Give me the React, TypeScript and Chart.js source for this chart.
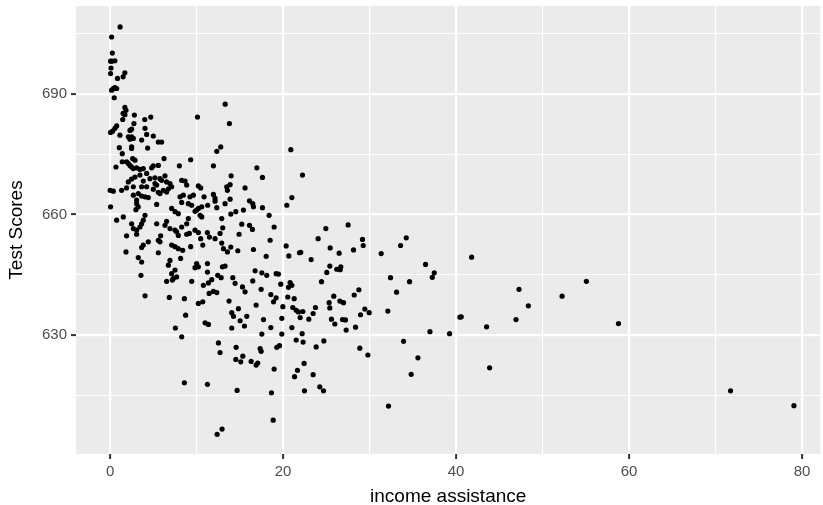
import React, { useEffect, useRef } from "react";
import { Chart, registerables } from "chart.js";
Chart.register(...registerables);

// income assistance (calworks %) and test scores
const calworks: number[] = [
  1.15, 0.17, 0.25, 0.2, 0.05, 0.55, 0.1, 0.05, 1.7, 1.5, 0.85, 0.36, 0.75, 0.17, 0.55, 0.47, 1.7, 1.83, 1.5, 1.7, 2.8, 1.45, 4.0, 4.7, 10.1,
  13.3,
  2.75, 0.75, 0.55, 0.28, 0.05, 2.48, 2.29, 4.03, 1.13, 2.1, 2.48, 2.68, 2.29, 4.22, 4.99, 3.64, 5.57, 5.95, 1.06, 2.48, 2.48, 4.33, 1.4, 2.6,
  2.87, 1.9, 2.1, 2.29, 2.48, 2.68, 3.06, 3.45, 3.83, 0.67, 1.4, 4.8, 4.99, 5.57, 6.23, 8.0, 9.31, 4.22, 3.45, 2.87, 2.48, 2.1, 4.6, 5.18, 5.76,
  6.34, 3.83, 5.18, 5.38, 5.95, 6.53, 6.92, 1.9, 2.68, 3.64, 4.22, 0.0, 0.36, 1.33, 4.99, 5.57, 6.15, 6.73, 7.11, 2.68, 3.25, 3.64, 4.03, 4.41, 5.76,
  6.53, 8.27, 8.85, 8.66, 8.46, 9.23, 9.62, 9.43, 9.04, 8.27, 8.08, 3.06, 3.06, 3.25, 2.98, 5.38, 10.2, 0.05, 7.11, 7.5, 7.88, 10.0, 0.75, 1.52, 4.03,
  3.83, 3.64, 3.45, 3.06, 2.68, 2.48, 5.38, 6.34, 6.53, 6.92, 7.5, 7.69, 8.27, 8.85, 9.04, 9.81, 10.2,
  13.79, 12.79, 12.33, 20.89, 11.94, 16.96, 17.61, 13.99, 13.87, 13.48, 13.56, 15.6, 10.47, 11.94, 12.13, 12.13, 10.86, 13.87, 13.29, 12.33, 11.28, 10.59, 10.2, 9.82, 16.11,
  16.49, 16.57, 17.61, 15.41, 14.53, 13.95, 18.38, 21.01, 20.43, 10.4, 10.59, 12.9, 11.24, 12.71, 13.02, 15.22, 16.11, 16.45, 14.91, 18.96,
  1.9, 3.06, 5.84, 7.88, 8.85, 9.16, 4.41, 3.83, 3.64, 5.57, 5.76, 7.11, 7.5, 7.88, 8.39, 9.31, 1.83, 5.57, 3.25, 3.64, 6.92, 6.73, 8.15, 10.0, 10.2,
  9.81, 7.5, 7.11, 7.69, 7.3, 6.53, 7.19, 3.56, 9.43, 4.03, 6.84, 8.58, 10.2, 8.73, 7.54, 8.27,
  10.47, 10.71, 11.48, 12.13, 12.9, 13.1, 13.56, 13.95, 14.76, 16.57, 18.5, 18.04, 20.35, 20.66, 21.89,
  12.98, 13.29, 11.25, 11.25,
  12.44, 12.83, 14.18, 14.45, 15.3, 15.6, 16.49, 16.76, 17.54, 18.11, 19.19, 19.46, 19.73, 20.81, 21.01, 20.62,
  10.78, 11.36, 11.75, 11.44, 11.94, 12.33, 10.71, 13.75, 14.83, 14.06, 14.26, 15.03, 15.8, 15.53, 16.88, 17.46, 18.58, 19.19, 18.89, 20.54,
  21.28, 19.97, 21.12, 21.51, 21.78, 17.73, 19.85, 18.58, 21.01, 21.97, 10.98, 11.36, 14.06, 17.54, 19.85, 21.51, 12.52, 14.57, 17.34, 19.27, 19.58,
  8.58,
  12.71, 14.53, 15.1, 15.34, 16.3, 16.88, 17.07, 17.46, 18.96, 21.66, 21.32, 11.25, 14.68, 18.65, 18.85, 12.94, 12.37,
  22.24, 24.94, 27.52, 24.05, 29.18, 29.26, 34.24, 33.58, 22.04, 23.24, 25.44, 26.48, 28.14, 31.34, 41.8, 25.4, 25.05, 26.21, 26.67, 26.6,
  36.47, 37.48, 37.25, 24.44, 32.42, 34.62, 28.76, 28.22, 33.12, 25.86, 25.32, 25.4, 26.56, 26.98, 22.28, 23.74, 23.47, 22.97, 25.59, 25.98,
  26.87, 27.21, 29.45, 29.95, 28.95, 27.29, 28.37, 32.11, 40.45, 40.6, 36.98, 39.25, 43.53, 46.93, 47.28, 48.36, 22.2, 22.31, 24.71, 23.82,
  28.87, 29.8, 33.93, 35.59, 43.88, 34.81, 22.43, 23.47, 24.24, 24.67, 22.47, 32.19,
  55.07, 52.26, 58.78, 71.74, 79.07,
];

const testscr: number[] = [
  706.6, 704.1, 700.1, 698.1, 698.1, 698.2, 696.4, 695.0, 695.2, 694.2, 693.8, 691.3, 691.3, 690.9, 691.5, 689.0, 686.6, 685.9, 685.1, 684.8, 684.7, 683.6, 683.6, 684.2, 684.2,
  687.4,
  682.6, 682.0, 681.4, 680.7, 680.4, 681.2, 680.9, 681.4, 679.7, 679.3, 679.3, 678.9, 678.7, 679.9, 679.5, 678.5, 678.0, 678.0, 676.6, 676.8, 676.4, 676.5, 675.1, 673.9,
  673.5, 673.1, 672.7, 672.2, 671.8, 671.4, 671.6, 671.2, 671.4, 671.8, 673.1, 671.6, 672.1, 672.2, 673.9, 672.1, 673.6, 670.2, 669.8, 669.3, 668.8, 668.1, 668.9, 669.1, 668.9,
  669.6, 668.3, 667.7, 667.3, 668.5, 668.1, 667.7, 666.6, 666.9, 666.9, 666.9, 666.0, 665.8, 666.0, 666.3, 665.5, 666.0, 666.4, 666.9, 664.8, 665.2, 664.6, 664.4, 664.2, 665.2,
  665.6, 668.5, 667.3, 668.3, 664.8, 664.4, 664.8, 662.3, 662.7, 663.0, 664.4, 663.6, 662.7, 661.9, 661.2, 662.5, 667.1, 661.9, 661.5, 660.7, 660.2, 661.1, 658.6, 659.4, 659.8,
  658.6, 657.7, 656.9, 656.1, 656.5, 657.7, 657.7, 657.3, 658.3, 656.5, 656.1, 655.7, 656.9, 657.7, 659.0, 656.1, 655.5,
  682.6, 676.8, 675.7, 676.1, 672.1, 671.6, 669.2, 669.6, 667.4, 666.9, 666.0, 666.6, 666.6, 665.0, 664.0, 663.3, 664.4, 663.8, 662.7, 661.7, 662.3, 661.9, 661.5, 660.8, 663.4,
  662.7, 661.9, 661.7, 661.1, 660.7, 660.1, 659.8, 664.2, 662.3, 659.8, 659.4, 659.0, 655.5, 655.3, 656.7, 657.6, 657.3, 656.3, 655.1, 656.9,
  654.7, 655.1, 654.7, 654.8, 655.1, 655.3, 653.2, 652.4, 651.8, 653.6, 653.2, 652.4, 652.0, 651.5, 651.1, 652.0, 650.7, 650.5, 649.3, 648.2, 648.6, 647.4, 649.1, 647.8, 647.0,
  646.8, 646.2, 645.3, 644.5, 644.1, 643.4, 643.7, 644.9, 643.4, 639.8, 639.4, 639.1, 637.9, 635.0, 631.8, 629.6,
  654.0, 652.4, 654.4, 654.0, 652.9, 651.5, 650.7, 651.9, 651.0, 651.3, 653.6, 649.6, 652.2, 649.7, 650.5,
  647.0, 647.2, 647.8, 645.7,
  644.9, 644.3, 644.3, 642.9, 642.0, 640.8, 643.5, 646.0, 645.5, 644.9, 645.3, 645.2, 642.7, 643.1, 642.4, 641.9,
  642.4, 643.0, 643.8, 640.4, 640.9, 640.6, 638.3, 638.5, 636.6, 635.6, 634.7, 633.6, 634.7, 632.3, 637.5, 641.4, 640.1, 639.3, 638.3, 639.5,
  639.1, 637.1, 636.9, 636.2, 635.8, 633.9, 634.2, 631.9, 631.9, 634.4, 633.1, 632.7, 631.8, 630.3, 630.3, 628.8, 628.1, 627.0, 626.7, 627.0, 627.4,
  618.2,
  625.7, 624.0, 623.4, 624.8, 623.5, 622.6, 623.1, 626.0, 621.6, 621.3, 619.7, 617.8, 616.3, 615.7, 608.9, 606.7, 605.4,
  669.8, 656.5, 657.4, 654.0, 653.8, 652.3, 654.2, 652.3, 650.6, 648.8, 651.7, 650.4, 651.2, 650.3, 649.4, 647.2, 645.6, 646.4, 647.0, 646.3,
  647.6, 645.5, 644.4, 643.3, 644.3, 643.3, 641.3, 640.0, 640.7, 639.7, 638.1, 636.8, 638.5, 638.1, 635.9, 636.9, 635.4, 634.0, 634.0, 632.8,
  633.9, 633.8, 636.5, 635.6, 635.1, 631.3, 632.0, 636.0, 634.5, 634.6, 630.9, 630.4, 632.1, 633.9, 641.4, 637.3, 630.4, 628.3, 628.6, 627.1,
  626.8, 625.1, 628.5, 624.4, 621.9, 620.3, 623.0, 620.2, 617.2, 616.2, 616.2, 612.4,
  643.4, 639.7, 632.9, 616.2, 612.5,
];

const xTicks = [0, 10, 20, 30, 40, 50, 60, 70, 80];
const xMajor = [0, 20, 40, 60, 80];
const yTicks = [615, 630, 645, 660, 675, 690, 705];
const yMajor = [630, 660, 690];
const xTitle = "income assistance";
const yTitle = "Test Scores";

const FONT = "'Liberation Sans', Arial, Helvetica, sans-serif";

export default function App() {
  const ref = useRef<HTMLCanvasElement | null>(null);

  useEffect(() => {
    document.body.style.margin = "0";
    const canvas = ref.current;
    if (!canvas) return;

    const panelBg = {
      id: "panelBg",
      beforeDraw(chart: any) {
        const { ctx, chartArea: a } = chart;
        ctx.save();
        ctx.fillStyle = "#EBEBEB";
        ctx.fillRect(a.left, a.top, a.right - a.left, a.bottom - a.top);
        ctx.restore();
      },
    };

    const isMajor = (list: number[], v: any) => list.includes(Number(v));
    const noPad = (s: any) => {
      s.paddingTop = 0;
      s.paddingBottom = 0;
      s.paddingLeft = 0;
      s.paddingRight = 0;
    };

    const chart = new Chart(canvas, {
      type: "scatter",
      data: {
        datasets: [
          {
            data: calworks.map((x, i) => ({ x, y: testscr[i] })),
            backgroundColor: "#000000",
            borderWidth: 0,
            pointRadius: 2.6,
            pointHoverRadius: 2.6,
          },
        ],
      },
      options: {
        animation: false,
        responsive: false,
        events: [],
        layout: { padding: { left: 0, right: 0, top: 6, bottom: 0 } },
        plugins: { legend: { display: false }, tooltip: { enabled: false } },
        scales: {
          x: {
            type: "linear",
            min: -3.95,
            max: 82.13,
            afterBuildTicks: (s: any) => {
              s.ticks = xTicks.map((v) => ({ value: v }));
            },
            afterFit: (s: any) => {
              s.height = 51;
              noPad(s);
            },
            border: { display: false },
            grid: {
              color: "#FFFFFF",
              lineWidth: (c: any) => (isMajor(xMajor, c.tick?.value) ? 2.2 : 1.1),
              tickLength: 5,
              tickWidth: 2,
              tickColor: (c: any) => (isMajor(xMajor, c.tick?.value) ? "#333333" : "rgba(0,0,0,0)"),
            },
            ticks: {
              autoSkip: false,
              maxRotation: 0,
              padding: 4,
              color: "#4D4D4D",
              font: { family: FONT, size: 15 },
              callback: (v: any) => (isMajor(xMajor, v) ? String(v) : ""),
            },
            title: {
              display: true,
              text: xTitle,
              color: "#000000",
              font: { family: FONT, size: 19, lineHeight: 0.9 },
              padding: { top: 0, bottom: 0 },
            },
          },
          y: {
            type: "linear",
            min: 600.5,
            max: 711.8,
            afterBuildTicks: (s: any) => {
              s.ticks = yTicks.map((v) => ({ value: v }));
            },
            afterFit: (s: any) => {
              s.width = 76;
              noPad(s);
            },
            border: { display: false },
            grid: {
              color: "#FFFFFF",
              lineWidth: (c: any) => (isMajor(yMajor, c.tick?.value) ? 2.2 : 1.1),
              tickLength: 5,
              tickWidth: 2,
              tickColor: (c: any) => (isMajor(yMajor, c.tick?.value) ? "#333333" : "rgba(0,0,0,0)"),
            },
            ticks: {
              autoSkip: false,
              padding: 4,
              color: "#4D4D4D",
              font: { family: FONT, size: 15 },
              callback: (v: any) => (isMajor(yMajor, v) ? String(v) : ""),
            },
            title: {
              display: true,
              text: yTitle,
              color: "#000000",
              font: { family: FONT, size: 19, lineHeight: 0.9 },
              padding: { top: 8, bottom: 0 },
            },
          },
        },
      },
      plugins: [panelBg],
    } as any);

    return () => chart.destroy();
  }, []);

  return (
    <div style={{ position: "absolute", left: 0, top: 0, width: 823, height: 505, background: "#FFFFFF" }}>
      <canvas ref={ref} width={823} height={505} style={{ display: "block", width: 823, height: 505 }} />
    </div>
  );
}
